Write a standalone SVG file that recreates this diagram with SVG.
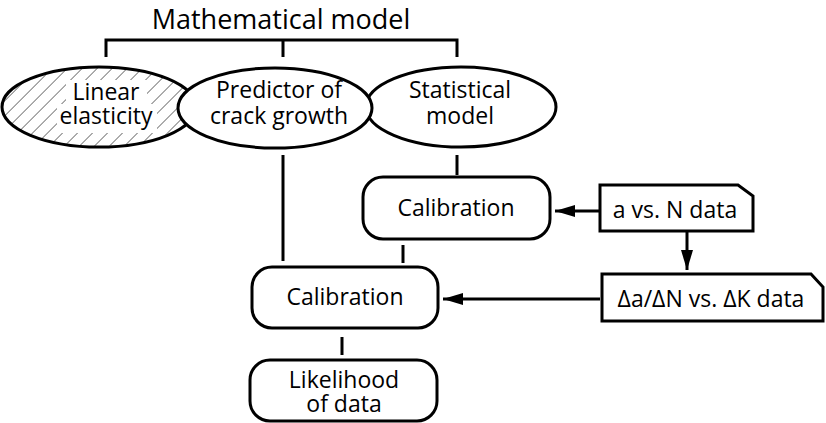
<svg xmlns="http://www.w3.org/2000/svg" width="826" height="423" viewBox="0 0 826 423">
<style>
text{font-family:"Open Sans","Liberation Sans",sans-serif;fill:#000;text-anchor:middle}
.t{font-size:23px}
.title{font-size:27px}
.shape{fill:#fff;stroke:#000;stroke-width:3}
.ln{fill:none;stroke:#000;stroke-width:3}
.arr{fill:none;stroke:#000;stroke-width:3;marker-end:url(#ah)}
</style>
<defs>
<pattern id="hatch" patternUnits="userSpaceOnUse" width="10.6" height="10.6" patternTransform="rotate(45)">
<line x1="0" y1="0" x2="0" y2="10.6" stroke="#000" stroke-width="1"/>
</pattern>
<marker id="ah" markerUnits="userSpaceOnUse" markerWidth="22" markerHeight="14" refX="20" refY="6" orient="auto">
<path d="M0,0 L20,6 L0,12 Z" fill="#000"/>
</marker>
</defs>
<rect width="826" height="423" fill="#fff"/>
<g id="title"><text class="title" x="281" y="28.5">Mathematical model</text></g>
<g id="connectors">
<path class="ln" d="M106,57 V40 H457 V57 M283,40 V57"/>
<path class="ln" d="M283,155 V261"/>
<path class="ln" d="M457,155 V175"/>
<path class="ln" d="M403,245 V263"/>
<path class="ln" d="M342,337 V355"/>
<path class="arr" d="M600,211 H555"/>
<path class="arr" d="M687,232 V270"/>
<path class="arr" d="M600,299 H443"/>
</g>
<g id="linear-elasticity">
<ellipse class="shape" cx="99" cy="107" rx="97" ry="40"/>
<ellipse cx="99" cy="107" rx="96" ry="39" fill="url(#hatch)"/>
<rect x="66" y="80" width="81" height="26" fill="#fff"/>
<rect x="57" y="104" width="100" height="29" fill="#fff"/>
<text class="t" x="106" y="100"><tspan x="106" y="100">Linear</tspan><tspan x="106" y="124">elasticity</tspan></text>
</g>
<g id="statistical-model">
<ellipse class="shape" cx="461" cy="107" rx="95" ry="40"/>
<text class="t" x="460" y="98"><tspan x="460" y="98">Statistical</tspan><tspan x="460" y="124">model</tspan></text>
</g>
<g id="predictor">
<ellipse class="shape" cx="275" cy="108" rx="97" ry="40"/>
<text class="t" x="279" y="98"><tspan x="279" y="98">Predictor of</tspan><tspan x="279" y="124">crack growth</tspan></text>
</g>
<g id="calibration-1">
<rect class="shape" x="363" y="177" width="187" height="62" rx="20"/>
<text class="t" x="456" y="216">Calibration</text>
</g>
<g id="a-vs-n">
<path class="shape" d="M600,185 H738 L753,196 V231 H600 Z"/>
<text class="t" x="675" y="218">a vs. N data</text>
</g>
<g id="da-dn">
<path class="shape" d="M602,274 H811 L823,287 V321 H602 Z"/>
<text class="t" x="711" y="307">Δa/ΔN vs. ΔK data</text>
</g>
<g id="calibration-2">
<rect class="shape" x="252" y="267" width="186" height="61" rx="20"/>
<text class="t" x="345" y="305">Calibration</text>
</g>
<g id="likelihood">
<rect class="shape" x="250" y="360" width="187" height="61" rx="20"/>
<text class="t" x="344" y="388"><tspan x="344" y="388">Likelihood</tspan><tspan x="344" y="412">of data</tspan></text>
</g>
</svg>
